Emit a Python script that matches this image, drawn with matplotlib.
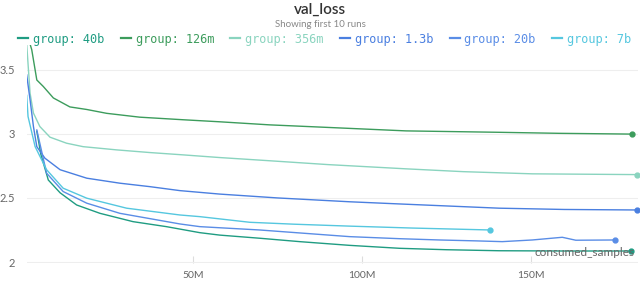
import numpy as np
import matplotlib
matplotlib.use("Agg")
import matplotlib.pyplot as plt
from matplotlib.lines import Line2D

# values (x in millions of consumed samples)
groups = ["40b", "126m", "356m", "1.3b", "20b", "7b"]
colors = ["#1f9c82", "#3c9c5c", "#8ad4bf", "#4a7fe0", "#5a8de6", "#55c7df"]

x_40b = [3.7, 4.9, 7.1, 10.6, 15.5, 22.4, 32.2, 42.1, 52.0, 57.9, 70, 81.6, 96.4, 111.2, 125, 140.7, 160, 179.9]
y_40b = [3.02, 2.84, 2.64, 2.54, 2.445, 2.38, 2.315, 2.276, 2.229, 2.21, 2.185, 2.159, 2.13, 2.107, 2.096, 2.088, 2.086, 2.086]

x_126m = [0.8, 2.2, 3.7, 5.6, 8.6, 13.5, 18.5, 24.4, 34.2, 47.0, 57.9, 72.7, 90, 113.1, 140.7, 158.5, 180.1]
y_126m = [3.78, 3.656, 3.42, 3.37, 3.28, 3.21, 3.19, 3.16, 3.13, 3.11, 3.094, 3.07, 3.05, 3.023, 3.012, 3.004, 2.998]

x_356m = [0.7, 1.7, 2.7, 4.6, 7.6, 12.5, 17.4, 27.3, 37.2, 47.0, 57.9, 72.7, 90, 113.1, 130, 150.5, 181.5]
y_356m = [3.70, 3.318, 3.162, 3.057, 2.974, 2.927, 2.90, 2.875, 2.854, 2.836, 2.815, 2.79, 2.76, 2.727, 2.705, 2.688, 2.682]

x_1_3b = [0.7, 1.7, 2.7, 3.7, 6.1, 10.6, 18.5, 28.3, 37.2, 46.1, 57.9, 75, 96.4, 111.2, 140.7, 160, 181.5]
y_1_3b = [3.46, 3.266, 3.057, 2.90, 2.81, 2.72, 2.654, 2.615, 2.588, 2.557, 2.53, 2.50, 2.47, 2.453, 2.42, 2.41, 2.406]

x_20b = [3.7, 6.6, 11.5, 18.5, 28.3, 46.1, 52.0, 69.7, 96.4, 111.2, 123.0, 133.8, 141.6, 150.5, 159.4, 163.4, 175.1]
y_20b = [3.03, 2.693, 2.55, 2.459, 2.38, 2.297, 2.276, 2.25, 2.198, 2.182, 2.172, 2.165, 2.159, 2.172, 2.193, 2.17, 2.172]

x_7b = [0.7, 1.1, 3.2, 6.6, 11.5, 18.5, 30.3, 46.1, 52.0, 66.8, 80, 96.4, 115, 138.0]
y_7b = [3.30, 3.135, 2.90, 2.72, 2.576, 2.498, 2.42, 2.367, 2.354, 2.31, 2.295, 2.28, 2.265, 2.25]

xs = [x_40b, x_126m, x_356m, x_1_3b, x_20b, x_7b]
ys = [y_40b, y_126m, y_356m, y_1_3b, y_20b, y_7b]

xticks = [50, 100, 150]
xticklabels = ["50M", "100M", "150M"]
yticks = [2, 2.5, 3, 3.5]
yticklabels = ["2", "2.5", "3", "3.5"]

plt.rcParams["font.family"] = ["Lato", "DejaVu Sans"]

fig = plt.figure(figsize=(6.4, 2.83), dpi=100)
ax = fig.add_axes([0.0417, 0.0696, 0.955, 0.770])

for x, y, c in zip(xs, ys, colors):
    ax.plot(x, y, color=c, lw=1.0, solid_joinstyle="round")
    ax.plot(x[-1], y[-1], "o", color=c, ms=3.5, clip_on=False)

ax.set_xlim(0.7, 181.8)
ax.set_ylim(1.99, 3.69)
ax.set_xticks(xticks)
ax.set_xticklabels(xticklabels)
ax.set_yticks(yticks)
ax.set_yticklabels(yticklabels)
ax.tick_params(axis="x", direction="in", length=5, width=0.8, color="#dddddd",
               pad=5.5, labelsize=7.5, labelcolor="#666666")
ax.tick_params(axis="y", length=0, pad=8.5, labelsize=8, labelcolor="#666666")
ax.grid(axis="y", color="#eeeeee", lw=0.8)
ax.set_axisbelow(True)
for s in ax.spines.values():
    s.set_visible(False)

ax.text(0.994, 0.05, "consumed_samples", transform=ax.transAxes, ha="right",
        va="center", fontsize=8.5, color="#666666", zorder=5)

fig.text(0.5, 0.966, "val_loss", ha="center", va="center", fontsize=11,
         color="#333333", fontweight="semibold")
fig.text(0.5, 0.915, "Showing first 10 runs", ha="center", va="center",
         fontsize=7, color="#888888")

# legend row, drawn by hand so the spacing matches
lx = 18.3
ly = 1 - 39.5 / 283
char_w = 7.2
for g, c in zip(groups, colors):
    fig.add_artist(Line2D([lx / 640, (lx + 10) / 640], [ly + 0.004, ly + 0.004],
                          color=c, lw=1.6, transform=fig.transFigure))
    label = "group: " + g
    fig.text((lx + 15) / 640, ly, label, ha="left", va="center",
             fontsize=8.6, color=c, family="DejaVu Sans Mono")
    lx += 16 + len(label) * char_w + 14.4

fig.savefig("out.png", dpi=100)
